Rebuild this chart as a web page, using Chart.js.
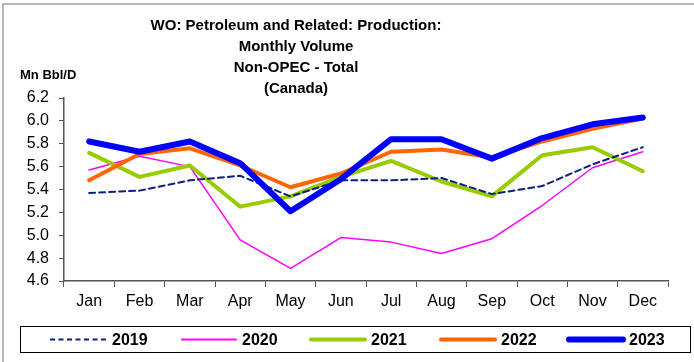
<!DOCTYPE html>
<html><head><meta charset="utf-8">
<script src="https://cdn.jsdelivr.net/npm/chart.js@4/dist/chart.umd.min.js"></script>
<style>html,body{margin:0;padding:0;background:#fff;}canvas{display:block;}</style>
</head><body>
<canvas id="c" width="694" height="362"></canvas>
<script>
const months = ["Jan","Feb","Mar","Apr","May","Jun","Jul","Aug","Sep","Oct","Nov","Dec"];
const yTicks = [4.6,4.8,5.0,5.2,5.4,5.6,5.8,6.0,6.2];
const s2019 = [5.37,5.39,5.48,5.52,5.34,5.48,5.48,5.50,5.36,5.43,5.62,5.77];
const s2020 = [5.57,5.69,5.60,4.96,4.71,4.98,4.94,4.84,4.97,5.26,5.59,5.73];
const s2021 = [5.72,5.51,5.61,5.25,5.34,5.51,5.65,5.47,5.34,5.70,5.77,5.56];
const s2022 = [5.48,5.71,5.76,5.61,5.42,5.54,5.73,5.75,5.68,5.82,5.93,6.02];
const s2023 = [5.82,5.73,5.82,5.63,5.21,5.49,5.84,5.84,5.67,5.85,5.97,6.03];
const seriesNames = ["2019","2020","2021","2022","2023"];
const titleLines = ["WO: Petroleum and Related: Production:","Monthly Volume","Non-OPEC - Total","(Canada)"];
const unitLabel = "Mn Bbl/D";

const FONT = "'Liberation Sans', Arial, sans-serif";
const styles = [
  {color:"#0d1f80", width:2, dash:[6,4], order:1},
  {color:"#ff00ff", width:1.5, dash:[], order:4},
  {color:"#99cc00", width:4, dash:[], order:3},
  {color:"#ff6600", width:4, dash:[], order:2},
  {color:"#0000ff", width:6, dash:[], order:0}
];
const allData = [s2019,s2020,s2021,s2022,s2023];
const datasets = seriesNames.map((n,i)=>({
  label:n, data:allData[i], borderColor:styles[i].color, backgroundColor:styles[i].color,
  borderWidth:styles[i].width, borderDash:styles[i].dash, order:styles[i].order,
  pointRadius:0, tension:0, borderCapStyle:'round', borderJoinStyle:'round', fill:false
}));

const decor = {
  id:'decor',
  beforeDraw(chart){
    const ctx=chart.ctx;
    ctx.save();
    ctx.fillStyle='#fff'; ctx.fillRect(0,0,694,362);
    ctx.strokeStyle='#a0a0a0'; ctx.lineWidth=1.5;
    ctx.beginPath(); ctx.moveTo(3,362); ctx.lineTo(3,4); ctx.lineTo(694,4); ctx.stroke();
    ctx.restore();
  },
  afterDraw(chart){
    const ctx=chart.ctx;
    ctx.save();
    ctx.fillStyle='#000';
    ctx.textAlign='center'; ctx.textBaseline='middle';
    ctx.font="bold 15px "+FONT;
    titleLines.forEach((t,i)=>ctx.fillText(t,296,26+i*21));
    ctx.textAlign='left';
    ctx.font="bold 13px "+FONT;
    ctx.fillText(unitLabel,20,75);
    // legend
    ctx.strokeStyle='#000'; ctx.lineWidth=1;
    ctx.strokeRect(20.5,326.5,670,26);
    const starts=[50,180,309,439,567];
    chart.data.datasets.forEach((d,i)=>{
      const x0=starts[i], y=339.5;
      ctx.strokeStyle=d.borderColor; ctx.lineWidth=Math.max(2,d.borderWidth);
      const dashed = d.borderDash && d.borderDash.length;
      ctx.setLineDash(dashed?[5,3.5]:[]);
      ctx.lineCap=dashed?'butt':'round';
      ctx.beginPath(); ctx.moveTo(x0+(dashed?0:2),y); ctx.lineTo(x0+(dashed?57:56),y); ctx.stroke();
      ctx.setLineDash([]);
      ctx.fillStyle='#000'; ctx.font="bold 16px "+FONT;
      ctx.textBaseline='middle';
      ctx.fillText(d.label,x0+62,y+1);
    });
    ctx.restore();
  }
};

new Chart(document.getElementById('c'),{
  type:'line',
  data:{labels:months, datasets},
  options:{
    responsive:false, animation:false, devicePixelRatio:1,
    layout:{padding:{top:98,right:26,left:0,bottom:0}},
    plugins:{legend:{display:false}, title:{display:false}, tooltip:{enabled:false}},
    scales:{
      x:{
        offset:true,
        grid:{display:true, offset:true, drawOnChartArea:false, drawTicks:true, tickLength:6, color:'#555'},
        border:{display:true,color:'#555',width:1.5},
        ticks:{color:'#000', font:{family:FONT,size:16}, padding:5, maxRotation:0},
        afterFit(s){ s.height=81; }
      },
      y:{
        min:4.6, max:6.2,
        afterBuildTicks(s){ s.ticks = yTicks.map(v=>({value:v})); },
        grid:{display:true, drawOnChartArea:false, drawTicks:true, tickLength:5, color:'#555'},
        border:{display:true,color:'#555',width:1.5},
        ticks:{color:'#000', font:{family:FONT,size:16}, padding:10, callback:v=>Number(v).toFixed(1)},
        afterFit(s){ s.width=64; }
      }
    }
  },
  plugins:[decor]
});
</script>
</body></html>
